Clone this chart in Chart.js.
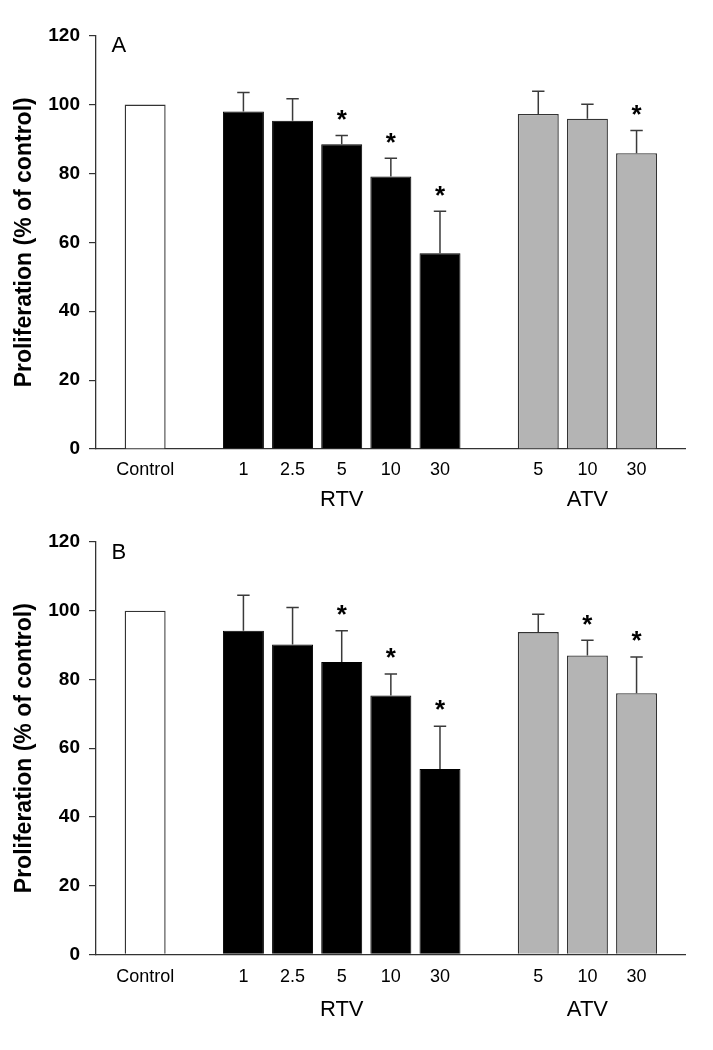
<!DOCTYPE html>
<html><head><meta charset="utf-8">
<script src="https://cdn.jsdelivr.net/npm/chart.js@4.4.1/dist/chart.umd.min.js"></script>
<style>
html,body{margin:0;padding:0;background:#fff;}
#wrap{position:relative;width:713px;height:1050px;background:#fff;}
canvas{position:absolute;left:0;}
</style></head><body>
<div id="wrap">
<canvas id="cA" width="713" height="506" style="top:0px"></canvas>
<canvas id="cB" width="713" height="544" style="top:506px"></canvas>
</div>
<script>
// ---- categories / tick labels ----
const categories = ['', 'Control', '', '1', '2.5', '5', '10', '30', '', '5', '10', '30', ''];
const controlSlots = [1];
const rtvSlots = [3, 4, 5, 6, 7];
const atvSlots = [9, 10, 11];
const groupNames = ['RTV', 'ATV'];
const yTicks = [0, 20, 40, 60, 80, 100, 120];
const yTitle = 'Proliferation (% of control)';

// ---- Panel A ----
const controlA = [100];
const rtvA = [98.0, 95.3, 88.5, 79.1, 56.8];
const rtvErrA = [5.5, 6.4, 2.5, 5.3, 12.2];
const rtvSigA = [0, 0, 1, 1, 1];
const atvA = [97.3, 95.9, 85.9];
const atvErrA = [6.6, 4.2, 6.6];
const atvSigA = [0, 0, 1];

// ---- Panel B ----
const controlB = [100];
const rtvB = [94.2, 90.2, 85.1, 75.3, 53.9];
const rtvErrB = [10.3, 10.7, 9.1, 6.3, 12.5];
const rtvSigB = [0, 0, 1, 1, 1];
const atvB = [93.8, 87.0, 76.0];
const atvErrB = [5.2, 4.4, 10.5];
const atvSigB = [0, 1, 1];

const FONT = '"Liberation Sans", Arial, Helvetica, sans-serif';

function spread(vals, slots) {
  const a = new Array(categories.length).fill(null);
  if (vals) slots.forEach((s, i) => { a[s] = vals[i]; });
  return a;
}

const errorBarPlugin = {
  id: 'errbars',
  afterDatasetsDraw(chart) {
    const ctx = chart.ctx, ys = chart.scales.y;
    chart.data.datasets.forEach((ds, di) => {
      const meta = chart.getDatasetMeta(di);
      ds.data.forEach((v, i) => {
        if (v == null || !ds.errors || ds.errors[i] == null) return;
        const bar = meta.data[i];
        const x = bar.x, yb = bar.y, yt = ys.getPixelForValue(v + ds.errors[i]);
        ctx.save();
        ctx.strokeStyle = '#3a3a3a';
        ctx.lineWidth = 1.5;
        ctx.beginPath();
        ctx.moveTo(x, yb); ctx.lineTo(x, yt);
        ctx.moveTo(x - 6.2, yt); ctx.lineTo(x + 6.2, yt);
        ctx.stroke();
        if (ds.sig[i]) {
          const fs = 26;
          ctx.fillStyle = '#000';
          ctx.font = 'bold ' + fs + 'px ' + FONT;
          ctx.textAlign = 'center';
          ctx.textBaseline = 'alphabetic';
          ctx.fillText('*', x, yt - 22 + 0.55 * fs);
        }
        ctx.restore();
      });
    });
  }
};

const labelPlugin = {
  id: 'panelLabels',
  afterDraw(chart, args, opts) {
    const ctx = chart.ctx, xs = chart.scales.x, ca = chart.chartArea;
    ctx.save();
    ctx.fillStyle = '#000';
    ctx.textBaseline = 'alphabetic';
    ctx.font = '22px ' + FONT;
    ctx.textAlign = 'left';
    ctx.fillText(opts.letter, ca.left + 15.5, ca.top + 16.5);
    ctx.font = '22px ' + FONT;
    ctx.textAlign = 'center';
    const groups = [rtvSlots, atvSlots];
    groupNames.forEach((g, k) => {
      const sl = groups[k];
      const mid = sl[Math.floor(sl.length / 2)];
      ctx.fillText(g, xs.getPixelForValue(mid), ca.bottom + opts.groupOffset);
    });
    ctx.restore();
  }
};

function makeChart(id, letter, ctrl, rtv, rtvErr, rtvSig, atv, atvErr, atvSig, geo) {
  return new Chart(document.getElementById(id), {
    type: 'bar',
    data: {
      labels: categories,
      datasets: [
        { label: 'Control', data: spread(ctrl, controlSlots), errors: null, sig: [],
          backgroundColor: '#ffffff', borderColor: '#333333', borderWidth: 1.4 },
        { label: 'RTV', data: spread(rtv, rtvSlots), errors: spread(rtvErr, rtvSlots), sig: spread(rtvSig, rtvSlots),
          backgroundColor: '#000000', borderColor: '#000000', borderWidth: 1 },
        { label: 'ATV', data: spread(atv, atvSlots), errors: spread(atvErr, atvSlots), sig: spread(atvSig, atvSlots),
          backgroundColor: '#b4b4b4', borderColor: '#333333', borderWidth: 1.4 }
      ]
    },
    options: {
      responsive: false,
      animation: false,
      devicePixelRatio: 1,
      layout: { padding: { top: geo.top, left: 0, right: 27.3, bottom: 0 } },
      datasets: { bar: { grouped: false, categoryPercentage: 1, barPercentage: 0.834, borderSkipped: 'start' } },
      plugins: {
        legend: { display: false },
        tooltip: { enabled: false },
        panelLabels: { letter: letter, groupOffset: geo.groupOffset }
      },
      scales: {
        x: {
          type: 'category',
          offset: false,
          afterFit(s) { s.height = geo.xHeight; },
          grid: { display: true, drawOnChartArea: false, drawTicks: false, color: 'rgba(0,0,0,0)' },
          border: { display: true, color: '#333333', width: 1.3 },
          ticks: { autoSkip: false, maxRotation: 0, minRotation: 0, padding: geo.tickPad,
                   color: '#000', font: { family: FONT, size: 18 } }
        },
        y: {
          min: 0, max: 120,
          afterFit(s) { s.width = 96; },
          afterBuildTicks(s) { s.ticks = yTicks.map(v => ({ value: v })); },
          grid: { display: true, drawOnChartArea: false, drawTicks: true, tickLength: 7, color: '#333333', lineWidth: 1.2 },
          border: { display: true, color: '#333333', width: 1.3 },
          ticks: { padding: 9, color: '#000', font: { family: FONT, size: 19, weight: 'bold' } },
          title: { display: true, text: yTitle, color: '#000', padding: { top: 11, bottom: 0 },
                   font: { family: FONT, size: 23, weight: 'bold', lineHeight: 1.2 } }
        }
      }
    },
    plugins: [errorBarPlugin, labelPlugin]
  });
}

makeChart('cA', 'A', controlA, rtvA, rtvErrA, rtvSigA, atvA, atvErrA, atvSigA,
  { top: 35.7, xHeight: 57, tickPad: 10, groupOffset: 57 });
makeChart('cB', 'B', controlB, rtvB, rtvErrB, rtvSigB, atvB, atvErrB, atvSigB,
  { top: 36, xHeight: 95.7, tickPad: 12, groupOffset: 62 });
</script>
</body></html>
